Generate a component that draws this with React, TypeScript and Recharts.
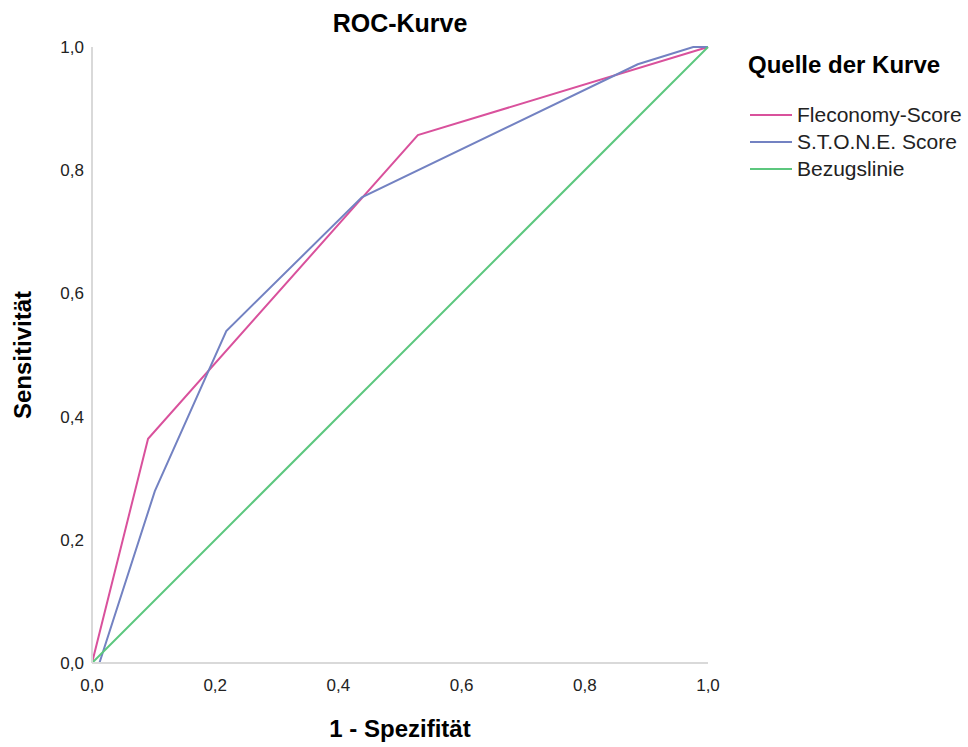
import React from 'react';
import { LineChart, Line, XAxis, YAxis } from 'recharts';

const flecX = [0, 0.091, 0.529, 1];
const flecY = [0, 0.364, 0.857, 1];
const stoneX = [0, 0.012, 0.102, 0.218, 0.438, 0.886, 0.976, 1];
const stoneY = [0, 0, 0.279, 0.539, 0.756, 0.972, 1, 1];
const refX = [0, 1];
const refY = [0, 1];
const ticks = [0, 0.2, 0.4, 0.6, 0.8, 1];

const seriesNames = ['Fleconomy-Score', 'S.T.O.N.E. Score', 'Bezugslinie'];
const seriesColors = ['#d9519c', '#7382c2', '#5cc77e'];

const toRows = (xs: number[], ys: number[]) => xs.map((x, i) => ({ x, y: ys[i] }));
const flecData = toRows(flecX, flecY);
const stoneData = toRows(stoneX, stoneY);
const refData = toRows(refX, refY);

const fmt = (v: number) => v.toFixed(1).replace('.', ',');
const font = '"Liberation Sans", Arial, sans-serif';

const LegendBox = () => (
  <div style={{ position: 'absolute', left: 748, top: 51, fontFamily: font, color: '#000' }}>
    <div style={{ fontSize: 24, fontWeight: 'bold', marginBottom: 22 }}>Quelle der Kurve</div>
    {seriesNames.map((n, i) => (
      <div key={n} style={{ display: 'flex', alignItems: 'center', height: 27 }}>
        <div style={{ width: 42, height: 2, background: seriesColors[i], marginLeft: 2, marginRight: 5 }} />
        <span style={{ fontSize: 21, color: '#222' }}>{n}</span>
      </div>
    ))}
  </div>
);

export default function App() {
  return (
    <div style={{ position: 'absolute', left: 0, top: 0, width: 968, height: 747, background: '#fff', fontFamily: font }}>
      <div
        style={{
          position: 'absolute',
          left: 0,
          width: 800,
          top: 9,
          textAlign: 'center',
          fontSize: 25,
          fontWeight: 'bold',
          color: '#000',
        }}
      >
        ROC-Kurve
      </div>
      <LineChart width={968} height={747} margin={{ top: 47, right: 260, bottom: 0, left: 0 }}>
        <XAxis
          dataKey="x"
          type="number"
          domain={[0, 1]}
          ticks={ticks}
          tickFormatter={fmt}
          tickLine={false}
          tickMargin={10}
          height={84}
          stroke="#d9d9d9"
          strokeWidth={2}
          tick={{ fill: '#222', fontSize: 17, fontFamily: font }}
          allowDuplicatedCategory={false}
          label={{ value: '1 - Spezifität', position: 'insideBottom', offset: 10, fill: '#000', fontSize: 24, fontWeight: 'bold', fontFamily: font }}
        />
        <YAxis
          dataKey="y"
          type="number"
          domain={[0, 1]}
          ticks={ticks}
          tickFormatter={fmt}
          tickLine={false}
          width={92}
          stroke="#d9d9d9"
          strokeWidth={2}
          tick={{ fill: '#222', fontSize: 17, fontFamily: font }}
          label={{ value: 'Sensitivität', angle: -90, position: 'insideLeft', offset: 22, fill: '#000', fontSize: 24, fontWeight: 'bold', fontFamily: font, style: { textAnchor: 'middle' } }}
        />
        <Line data={flecData} dataKey="y" name={seriesNames[0]} stroke={seriesColors[0]} strokeWidth={2} dot={false} isAnimationActive={false} />
        <Line data={stoneData} dataKey="y" name={seriesNames[1]} stroke={seriesColors[1]} strokeWidth={2} dot={false} isAnimationActive={false} />
        <Line data={refData} dataKey="y" name={seriesNames[2]} stroke={seriesColors[2]} strokeWidth={2} dot={false} isAnimationActive={false} />
      </LineChart>
      <LegendBox />
    </div>
  );
}
